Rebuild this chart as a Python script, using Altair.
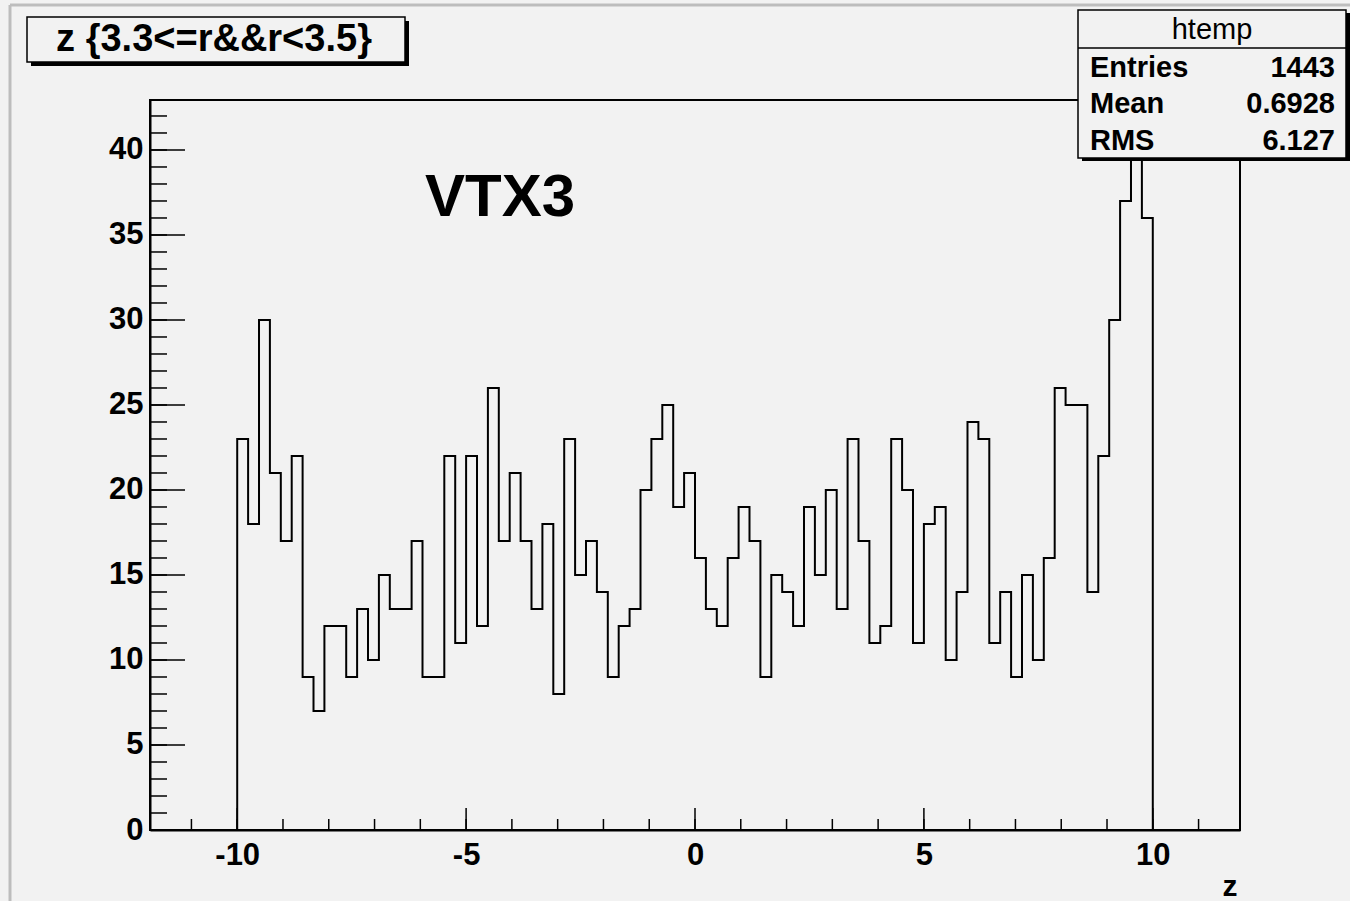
import altair as alt
import pandas as pd

# ---- data (htemp, 84 bins from -10 to 10) ----
counts = [23, 18, 30, 21, 17, 22, 9, 7, 12, 12,
          9, 13, 10, 15, 13, 13, 17, 9, 9, 22,
          11, 22, 12, 26, 17, 21, 17, 13, 18, 8,
          23, 15, 17, 14, 9, 12, 13, 20, 23, 25,
          19, 21, 16, 13, 12, 16, 19, 17, 9, 15,
          14, 12, 19, 15, 20, 13, 23, 17, 11, 12,
          23, 20, 11, 18, 19, 10, 14, 24, 23, 11,
          14, 9, 15, 10, 16, 26, 25, 25, 14, 22,
          30, 37, 41, 36]
hist_lo, hist_hi, n_bins = -10.0, 10.0, 84
axis_lo, axis_hi = -11.905, 11.905
y_top = 42.94

x_major = [-10, -5, 0, 5, 10]
x_minor = list(range(-11, 12))
y_major = [0, 5, 10, 15, 20, 25, 30, 35, 40]
y_minor = list(range(0, 43))

title_text = "z {3.3<=r&&r<3.5}"
stats_name = "htemp"
stats_labels = ["Entries", "Mean", "RMS"]
stats_values = ["1443", "0.6928", "6.127"]
annot_text = "VTX3"
x_title = "z"

# ---- layout ----
W, H = 1090, 730
BG = "#f2f2f2"
FONT = "Liberation Sans"

bw = (hist_hi - hist_lo) / n_bins
xs_pts = [hist_lo] + [hist_lo + i * bw for i in range(n_bins)] + [hist_hi]
ys_pts = [0] + counts + [0]
hist_df = pd.DataFrame({"i": list(range(len(xs_pts))), "x": xs_pts, "y": ys_pts})

xscale = alt.Scale(domain=[axis_lo, axis_hi], nice=False, zero=False)
yscale = alt.Scale(domain=[0, y_top], nice=False, zero=False)

x_axis = alt.Axis(
    values=x_major, ticks=False, grid=False, title=None,
    labelExpr="'' + datum.value",
    labelFont=FONT, labelFontSize=31, labelFontWeight="bold", labelColor="black",
    labelPadding=10, labelFlush=False, labelOverlap=False,
    domainColor="black", domainWidth=2)
y_axis = alt.Axis(
    values=y_major, ticks=False, grid=False, title=None,
    labelExpr="'' + datum.value",
    labelFont=FONT, labelFontSize=31, labelFontWeight="bold", labelColor="black",
    labelPadding=7, labelOverlap=False,
    domainColor="black", domainWidth=2)

hist = alt.Chart(hist_df).mark_line(
    interpolate="step-after", color="black", strokeWidth=2, strokeJoin="miter"
).encode(
    x=alt.X("x:Q", scale=xscale, axis=x_axis),
    y=alt.Y("y:Q", scale=yscale, axis=y_axis),
    order="i:Q",
)

def xticks(vals, length):
    return alt.Chart(pd.DataFrame({"x": vals})).mark_rule(
        color="black", strokeWidth=1.5
    ).encode(x=alt.X("x:Q", scale=xscale, axis=x_axis),
             y=alt.value(H), y2=alt.value(H - length))

def yticks(vals, length):
    return alt.Chart(pd.DataFrame({"y": vals})).mark_rule(
        color="black", strokeWidth=1.5
    ).encode(y=alt.Y("y:Q", scale=yscale, axis=y_axis),
             x=alt.value(0), x2=alt.value(length))

dummy = pd.DataFrame({"a": [0]})

def box(x1, y1, x2, y2, fill, stroke="black", sw=1.5):
    return alt.Chart(dummy).mark_rect(fill=fill, stroke=stroke, strokeWidth=sw).encode(
        x=alt.value(x1), x2=alt.value(x2), y=alt.value(y1), y2=alt.value(y2))

def line(x1, y1, x2, y2, color="black", sw=1.5):
    return alt.Chart(dummy).mark_rule(color=color, strokeWidth=sw).encode(
        x=alt.value(x1), x2=alt.value(x2), y=alt.value(y1), y2=alt.value(y2))

def text(t, x, y, size, align="left", weight="bold"):
    return alt.Chart(dummy).mark_text(
        text=t, align=align, baseline="middle", font=FONT, fontSize=size,
        fontWeight=weight, color="black"
    ).encode(x=alt.value(x), y=alt.value(y))

# canvas bevel lines
bevel = [line(-140, -95, -140, 801, color="#bdbdbd", sw=3),
         line(-140, -95, 1200, -95, color="#bdbdbd", sw=3)]

# title box (shadow + box + text)
title_layers = [
    box(-119, -79, 259, -34, "black", stroke="black", sw=0),
    box(-123, -83, 255, -38, BG),
    text(title_text, 64, -60, 38, align="center"),
]

# stats box
sx1, sy1, sx2, sy2 = 928, -90, 1196, 58
stats_layers = [
    box(sx1 + 4, sy1 + 3, sx2 + 4, sy2 + 3, "black", stroke="black", sw=0),
    box(sx1, sy1, sx2, sy2, BG),
    line(sx1, -52, sx2, -52),
    text(stats_name, 1062, -70, 29, align="center", weight="normal"),
]
rows_y = [-32, 4, 41]
for lab, val, yy in zip(stats_labels, stats_values, rows_y):
    stats_layers.append(text(lab, 940, yy, 29))
    stats_layers.append(text(val, 1185, yy, 29, align="right"))

annot = text(annot_text, 350, 98, 60, align="center")
xlab = text(x_title, 1080, 787, 30, align="center")

layers = (bevel + [hist, xticks(x_minor, 11), xticks(x_major, 22),
                   yticks(y_minor, 17), yticks(y_major, 35), annot, xlab]
          + title_layers + stats_layers)

chart = alt.layer(*layers).properties(
    width=W, height=H,
    autosize=alt.AutoSizeParams(type="none"),
    padding={"left": 150, "top": 100, "right": 110, "bottom": 71},
    background=BG,
).configure_view(
    stroke="black", strokeWidth=2, fill=BG, clip=False
)

chart.save("out.html", embed_options={"renderer": "svg", "actions": False})
